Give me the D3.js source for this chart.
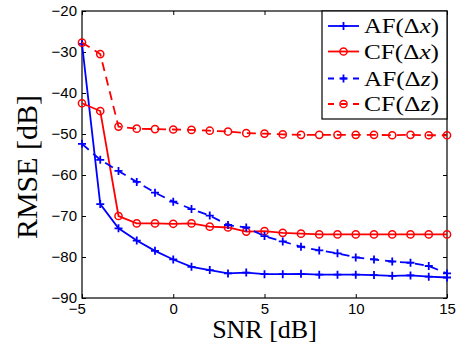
<!DOCTYPE html>
<html>
<head>
<meta charset="utf-8">
<script src="https://cdn.jsdelivr.net/npm/d3@7"></script>
<style>
  body { margin: 0; background: #fff; }
  svg { display: block; }
</style>
</head>
<body>
<div id="chart"></div>
<script>
// SNR values (dB)
const snr = d3.range(-5, 16);

// RMSE values (dB)
const af_dx = [-28.0, -67.1, -73.0, -76.0, -78.5, -80.6, -82.4, -83.2, -84.0, -83.8, -84.2,
    -84.2, -84.1, -84.3, -84.3, -84.3, -84.4, -84.6, -84.5, -84.8, -85.0];
const cf_dx = [-42.5, -44.4, -70.0, -71.8, -71.8, -71.9, -71.8, -72.6, -72.8, -73.8, -73.7,
    -74.1, -74.3, -74.5, -74.5, -74.5, -74.5, -74.5, -74.5, -74.5, -74.5];
const af_dz = [-52.4, -56.3, -59.0, -61.7, -64.3, -66.5, -68.3, -69.9, -72.2, -72.8, -74.9,
    -76.2, -77.5, -78.4, -79.1, -80.1, -80.6, -81.1, -81.4, -82.2, -84.0];
const cf_dz = [-27.7, -30.5, -48.2, -48.7, -48.8, -48.9, -49.0, -49.2, -49.4, -49.8, -49.9,
    -50.1, -50.2, -50.2, -50.2, -50.2, -50.2, -50.3, -50.2, -50.3, -50.3];

const x_ticks = [-5, 0, 5, 10, 15];
const y_ticks = [-90, -80, -70, -60, -50, -40, -30, -20];

const series = [
    { label: "AF", sym: "x", values: af_dx, color: "#0000ff", dash: null, marker: "plus" },
    { label: "CF", sym: "x", values: cf_dx, color: "#ff0000", dash: null, marker: "circle" },
    { label: "AF", sym: "z", values: af_dz, color: "#0000ff", dash: "9,6", marker: "plus" },
    { label: "CF", sym: "z", values: cf_dz, color: "#ff0000", dash: "9,6", marker: "circle" }
];

const w = 465;
const h = 351;
const margin = { top: 11, right: 18, bottom: 53, left: 82 };

const svg = d3.select("#chart").append("svg")
    .attr("width", w)
    .attr("height", h);

const x_scale = d3.scaleLinear().domain([-5, 15]).range([margin.left, w - margin.right]);
const y_scale = d3.scaleLinear().domain([-90, -20]).range([h - margin.bottom, margin.top]);

const tick_font = "'Liberation Sans', Arial, Helvetica, sans-serif";
const serif_font = "'Liberation Serif', 'Times New Roman', Times, serif";

// axes with inward ticks
function style_axis(g, labels) {
    g.select(".domain").remove();
    g.selectAll(".tick line").attr("stroke", "#000");
    g.selectAll(".tick text")
        .attr("fill", "#000")
        .style("font-family", tick_font)
        .style("font-size", "15px");
    if (!labels) g.selectAll(".tick text").remove();
}

svg.append("g")
    .attr("transform", `translate(0,${h - margin.bottom})`)
    .call(d3.axisBottom(x_scale).tickValues(x_ticks).tickSizeInner(-4).tickSizeOuter(0).tickPadding(5))
    .call(g => style_axis(g, true))
    .call(g => g.selectAll(".tick text").filter(d => d < 0).attr("dx", "-0.35em"));

svg.append("g")
    .attr("transform", `translate(0,${margin.top})`)
    .call(d3.axisTop(x_scale).tickValues(x_ticks).tickSizeInner(-4).tickSizeOuter(0))
    .call(g => style_axis(g, false));

svg.append("g")
    .attr("transform", `translate(${margin.left},0)`)
    .call(d3.axisLeft(y_scale).tickValues(y_ticks).tickSizeInner(-4).tickSizeOuter(0).tickPadding(5))
    .call(g => style_axis(g, true));

svg.append("g")
    .attr("transform", `translate(${w - margin.right},0)`)
    .call(d3.axisRight(y_scale).tickValues(y_ticks).tickSizeInner(-4).tickSizeOuter(0))
    .call(g => style_axis(g, false));

// plot frame
svg.append("rect")
    .attr("x", margin.left)
    .attr("y", margin.top)
    .attr("width", w - margin.left - margin.right)
    .attr("height", h - margin.top - margin.bottom)
    .attr("fill", "none")
    .attr("stroke", "#000")
    .attr("stroke-width", 1.2);

// axis labels
svg.append("text")
    .attr("x", (margin.left + w - margin.right) / 2)
    .attr("y", 338)
    .attr("text-anchor", "middle")
    .style("font-family", serif_font)
    .style("font-size", "26px")
    .text("SNR [dB]");

svg.append("text")
    .attr("transform", "rotate(-90)")
    .attr("x", -167)
    .attr("y", 37)
    .attr("text-anchor", "middle")
    .style("font-family", serif_font)
    .style("font-size", "30px")
    .text("RMSE [dB]");

function draw_marker(g, type, color) {
    if (type === "plus") {
        g.append("path")
            .attr("d", "M-4,0H4M0,-4V4")
            .attr("stroke", color)
            .attr("stroke-width", 1.8)
            .attr("fill", "none");
    } else {
        g.append("circle")
            .attr("r", 3.6)
            .attr("fill", "none")
            .attr("stroke", color)
            .attr("stroke-width", 1.5);
    }
}

const line = d3.line()
    .x((d, i) => x_scale(snr[i]))
    .y(d => y_scale(d));

const plot = svg.append("g");

series.forEach(s => {
    const g = plot.append("g");
    g.append("path")
        .datum(s.values)
        .attr("d", line)
        .attr("fill", "none")
        .attr("stroke", s.color)
        .attr("stroke-width", 1.8)
        .attr("stroke-dasharray", s.dash);
    g.selectAll("g.mk")
        .data(s.values)
        .join("g")
        .attr("class", "mk")
        .attr("transform", (d, i) => `translate(${x_scale(snr[i])},${y_scale(d)})`)
        .each(function () { draw_marker(d3.select(this), s.marker, s.color); });
});

// legend
const legend = svg.append("g");
legend.append("rect")
    .attr("x", 322)
    .attr("y", margin.top)
    .attr("width", w - margin.right - 322)
    .attr("height", 108)
    .attr("fill", "#fff")
    .attr("stroke", "#000")
    .attr("stroke-width", 1.2);

const legend_y = [26, 51.5, 78.5, 104];
series.forEach((s, i) => {
    const row = legend.append("g").attr("transform", `translate(0,${legend_y[i]})`);
    row.append("line")
        .attr("x1", 328).attr("x2", 359)
        .attr("stroke", s.color)
        .attr("stroke-width", 1.8)
        .attr("stroke-dasharray", s.dash ? "6,6.5" : null);
    const mk = row.append("g").attr("transform", "translate(343.5,0)");
    draw_marker(mk, s.marker, s.color);
    const t = row.append("text")
        .attr("x", 364)
        .attr("y", 7)
        .attr("textLength", 75)
        .attr("lengthAdjust", "spacingAndGlyphs")
        .style("font-family", serif_font)
        .style("font-size", "21px");
    t.append("tspan").text(s.label + "(\u0394");
    t.append("tspan").style("font-style", "italic").text(s.sym);
    t.append("tspan").text(")");
});
</script>
</body>
</html>
